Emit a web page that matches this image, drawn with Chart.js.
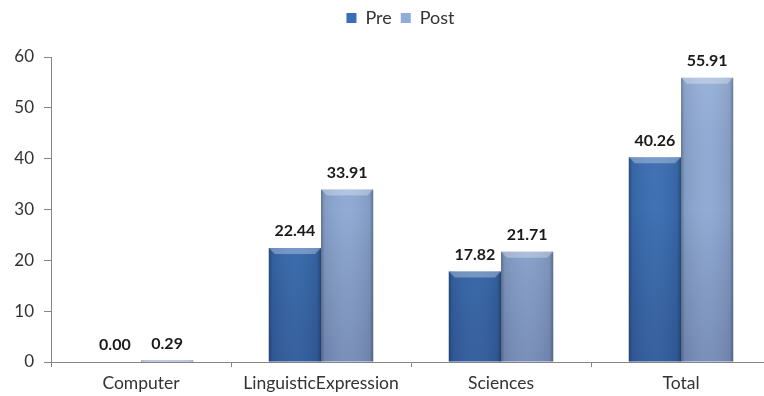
<!DOCTYPE html>
<html>
<head>
<meta charset="utf-8">
<script src="https://cdn.jsdelivr.net/npm/chart.js@4/dist/chart.umd.min.js"></script>
<style>
  html, body { margin: 0; padding: 0; background: #fff; overflow: hidden; }
  #wrap { width: 800px; height: 396px; position: relative; }
</style>
</head>
<body>
<div id="wrap"><canvas id="c"></canvas></div>
<script>
const categories = ['Computer', 'LinguisticExpression', 'Sciences', 'Total'];
const preValues  = [0.00, 22.44, 17.82, 40.26];
const postValues = [0.29, 33.91, 21.71, 55.91];
const seriesNames = ['Pre', 'Post'];
const yMin = 0, yMax = 60, yStep = 10;

const FONT = 'Lato, "Liberation Sans", sans-serif';
const AXIS_GREY = '#868686';

// Fixed-height legend band above the plot, centred over the full width
const legendBand = {
  id: 'legendBand',
  beforeLayout(chart) {
    const lg = chart.legend;
    if (lg && !lg._bandWrapped) {
      const fit = lg.fit.bind(lg);
      lg.fit = function () { fit(); this.height = 57; };
      lg._bandWrapped = true;
    }
  },
  afterLayout(chart) {
    const lg = chart.legend;
    if (lg) lg.right += 30;
  }
};

// Bevelled, shaded look on each bar
const bevel = {
  id: 'bevel',
  afterDatasetsDraw(chart) {
    const ctx = chart.ctx;
    chart.data.datasets.forEach((ds, i) => {
      const meta = chart.getDatasetMeta(i);
      meta.data.forEach(bar => {
        const { x, y, base, width } = bar.getProps(['x', 'y', 'base', 'width'], true);
        const l = x - width / 2, r = x + width / 2, h = base - y;
        if (h <= 0.5) return;
        ctx.save();
        // darker vertical edges
        const g = ctx.createLinearGradient(l, 0, r, 0);
        g.addColorStop(0, 'rgba(0,0,0,0.30)');
        g.addColorStop(0.07, 'rgba(0,0,0,0.08)');
        g.addColorStop(0.5, 'rgba(255,255,255,0.03)');
        g.addColorStop(0.93, 'rgba(0,0,0,0.08)');
        g.addColorStop(1, 'rgba(0,0,0,0.32)');
        ctx.fillStyle = g;
        ctx.fillRect(l, y, width, h);
        // lighter at the top, darker toward the base
        const v = ctx.createLinearGradient(0, chart.chartArea.top, 0, base);
        v.addColorStop(0, 'rgba(255,255,255,0.10)');
        v.addColorStop(0.5, 'rgba(0,0,0,0.02)');
        v.addColorStop(1, 'rgba(20,20,60,0.20)');
        ctx.fillStyle = v;
        ctx.fillRect(l, y, width, h);
        // top bevel
        const b = Math.min(6, h);
        ctx.beginPath();
        ctx.moveTo(l, y); ctx.lineTo(r, y);
        ctx.lineTo(r - b, y + b); ctx.lineTo(l + b, y + b);
        ctx.closePath();
        ctx.fillStyle = 'rgba(255,255,255,0.30)';
        ctx.fill();
        ctx.restore();
      });
    });
  }
};

// Value labels above the bars
const valueLabels = {
  id: 'valueLabels',
  afterDatasetsDraw(chart) {
    const ctx = chart.ctx;
    ctx.save();
    ctx.font = 'bold 16px ' + FONT;
    ctx.fillStyle = '#1a1a1a';
    ctx.textAlign = 'center';
    ctx.textBaseline = 'bottom';
    chart.data.datasets.forEach((ds, i) => {
      chart.getDatasetMeta(i).data.forEach((bar, j) => {
        ctx.fillText(ds.data[j].toFixed(2), bar.x, bar.y - 9);
      });
    });
    ctx.restore();
  }
};

new Chart(document.getElementById('c'), {
  type: 'bar',
  data: {
    labels: categories,
    datasets: [
      { label: seriesNames[0], data: preValues,  backgroundColor: '#3a6fb6', borderWidth: 0 },
      { label: seriesNames[1], data: postValues, backgroundColor: '#90acd8', borderWidth: 0 }
    ]
  },
  options: {
    responsive: true,
    maintainAspectRatio: false,
    devicePixelRatio: 1,
    animation: false,
    layout: { padding: { top: 0, left: 0, right: 29, bottom: 0 } },
    datasets: { bar: { categoryPercentage: 0.58, barPercentage: 1.0 } },
    plugins: {
      legend: {
        position: 'top',
        labels: {
          font: { family: FONT, size: 18 },
          color: '#333',
          boxWidth: 10,
          boxHeight: 10,
          padding: 9
        }
      },
      tooltip: { enabled: false }
    },
    scales: {
      x: {
        afterFit: s => { s.height = 34; },
        grid: { offset: true, drawOnChartArea: false, tickLength: 5, color: AXIS_GREY },
        border: { color: AXIS_GREY },
        ticks: { font: { family: FONT, size: 17.5 }, color: '#333', padding: 6, maxRotation: 0 }
      },
      y: {
        min: yMin, max: yMax,
        afterFit: s => { s.width = 51; },
        grid: { drawOnChartArea: false, tickLength: 7, color: AXIS_GREY },
        border: { color: AXIS_GREY },
        ticks: { stepSize: yStep, font: { family: FONT, size: 17 }, color: '#333', padding: 10 }
      }
    }
  },
  plugins: [legendBand, bevel, valueLabels]
});
</script>
</body>
</html>
